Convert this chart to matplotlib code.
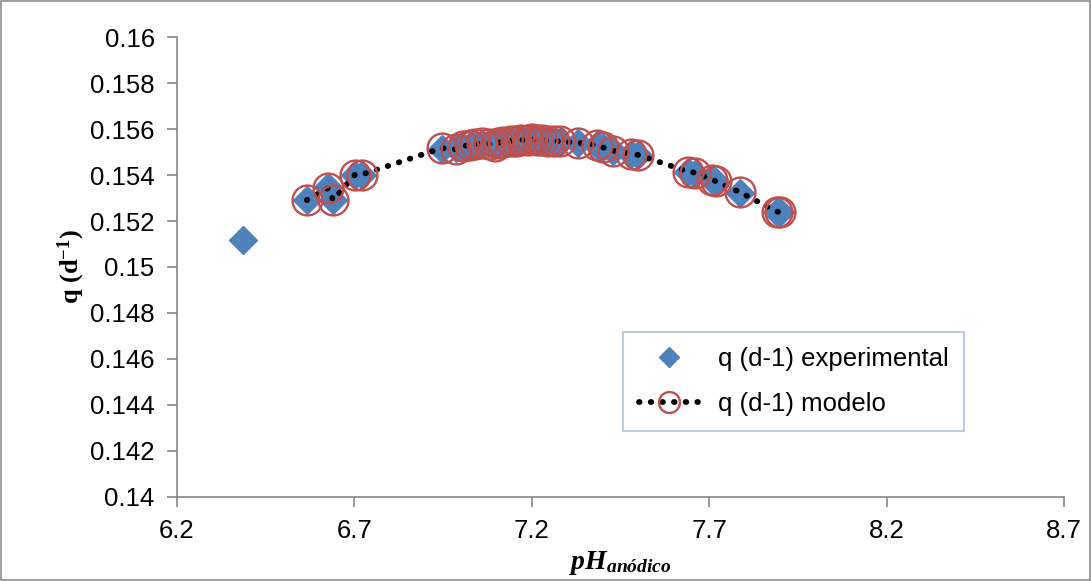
import matplotlib

matplotlib.use("Agg")
import matplotlib.pyplot as plt
import numpy as np

# pH anodico (sorted), experimental q and model q (d-1)
ph = [6.386, 6.566, 6.626, 6.640, 6.702, 6.721,
      6.947, 6.985, 7.005, 7.025, 7.040, 7.060, 7.080, 7.095, 7.105, 7.120,
      7.140, 7.155, 7.170, 7.190, 7.200, 7.215, 7.230, 7.245, 7.262, 7.280,
      7.330, 7.385, 7.400, 7.430, 7.480, 7.500,
      7.640, 7.660, 7.708, 7.720, 7.787, 7.891, 7.900]
q_exp = [0.15117, 0.15291, 0.15348, 0.15291, 0.15400, 0.15400,
         0.15512, 0.15518, 0.15522, 0.15528, 0.15532, 0.15536, 0.15538, 0.15530, 0.15540, 0.15542,
         0.15545, 0.15548, 0.15550, 0.15552, 0.15553, 0.15552, 0.15550, 0.15548, 0.15546, 0.15544,
         0.15539, 0.15530, 0.15522, 0.15505, 0.15490, 0.15487,
         0.15413, 0.15405, 0.15378, 0.15370, 0.15322, 0.15239, 0.15239]
q_mod = [np.nan, 0.15291, 0.15343, 0.15291, 0.15402, 0.15402,
         0.15517, 0.15512, 0.15525, 0.15530, 0.15535, 0.15538, 0.15536, 0.15528, 0.15540, 0.15545,
         0.15548, 0.15550, 0.15552, 0.15554, 0.15555, 0.15554, 0.15552, 0.15550, 0.15548, 0.15546,
         0.15540, 0.15530, 0.15520, 0.15505, 0.15492, 0.15487,
         0.15415, 0.15410, 0.15380, 0.15372, 0.15325, 0.15240, 0.15240]

x_ticks = [6.2, 6.7, 7.2, 7.7, 8.2, 8.7]
y_ticks = [0.14, 0.142, 0.144, 0.146, 0.148, 0.15, 0.152, 0.154, 0.156, 0.158, 0.16]

plt.rcParams["font.family"] = ["Liberation Sans", "DejaVu Sans"]
plt.rcParams["mathtext.fontset"] = "custom"
plt.rcParams["mathtext.it"] = "Liberation Serif:italic:bold"
plt.rcParams["mathtext.bf"] = "Liberation Serif:bold"
plt.rcParams["mathtext.rm"] = "Liberation Serif:bold"

fig = plt.figure(figsize=(10.91, 5.81), dpi=100)
ax = fig.add_axes([0.1622, 0.1446, 0.8131, 0.7917])

fig.patches.append(plt.Rectangle((0.001, 0.001), 0.998, 0.998, transform=fig.transFigure,
                                 fill=False, edgecolor="#8c8c8c", linewidth=1.2))

ax.plot(ph, q_exp, linestyle="none", marker="D", markersize=14.5,
        color="#4F81BD", label="q (d-1) experimental", zorder=2)
ax.plot(ph, q_mod, linestyle=(0, (0.1, 1.9)), dash_capstyle="round", linewidth=4.2,
        color="black", marker="o", markersize=21.5, markerfacecolor="none",
        markeredgecolor="#C0504D", markeredgewidth=1.7, label="q (d-1) modelo", zorder=3)

ax.set_xlim(6.2, 8.7)
ax.set_ylim(0.14, 0.16)
ax.set_xticks(x_ticks)
ax.set_xticklabels([f"{v:g}" for v in x_ticks])
ax.set_yticks(y_ticks)
ax.set_yticklabels([f"{v:g}" for v in y_ticks])
ax.tick_params(labelsize=18.5, color="#868686", length=7, width=1.2, pad=9)

for side in ("top", "right"):
    ax.spines[side].set_visible(False)
for side in ("left", "bottom"):
    ax.spines[side].set_color("#868686")
    ax.spines[side].set_linewidth(1.2)

ax.set_xlabel("$pH_{anódico}$", fontsize=20, labelpad=4)
ax.set_ylabel(r"q (d$^{\mathbf{-1}}$)", fontsize=19, fontweight="bold",
              family="Liberation Serif", labelpad=2)

leg = ax.legend(loc="upper left", bbox_to_anchor=(0.503, 0.359), fontsize=18.5,
                frameon=True, fancybox=False, borderpad=0.6, labelspacing=0.8,
                handlelength=2.4, handletextpad=0.7, markerscale=0.7, borderaxespad=0)
leg.get_frame().set_edgecolor("#95B3D7")
leg.get_frame().set_linewidth(1.2)

fig.savefig("out.png", dpi=100)
